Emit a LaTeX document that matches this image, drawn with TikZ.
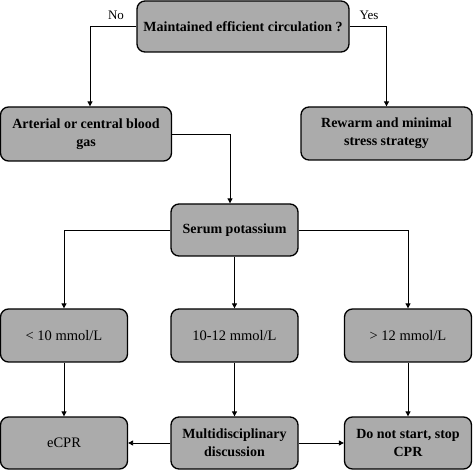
\documentclass[tikz,border=0pt]{standalone}
\usepackage{fontspec}
\setmainfont{Liberation Serif}
\usetikzlibrary{arrows.meta}
\definecolor{boxgray}{HTML}{ABABAB}
\tikzset{
  box/.style={draw=black, line width=1.3pt, fill=boxgray, rounded corners=8pt,
    inner sep=0pt, align=center, font=\bfseries\fontsize{14}{18}\selectfont},
  reg/.style={font=\fontsize{14.5}{18}\selectfont},
  conn/.style={line width=0.9pt, -{Triangle[length=5pt,width=5pt]}},
  lbl/.style={font=\fontsize{13}{15}\selectfont}
}
\begin{document}
\begin{tikzpicture}[x=1pt,y=-1pt]
\useasboundingbox (0,0) rectangle (474,470);
\node[box, minimum width=212pt, minimum height=51pt] (top) at (243,26.5) {Maintained efficient circulation ?};
\node[box, minimum width=171pt, minimum height=54pt] (art) at (86,134) {Arterial or central blood\\gas};
\node[box, minimum width=171pt, minimum height=53pt] (rew) at (386.5,133.5) {Rewarm and minimal\\stress strategy};
\node[box, minimum width=127pt, minimum height=52pt] (ser) at (234.5,230) {Serum potassium};
\node[box, reg, minimum width=127pt, minimum height=53pt] (l3) at (64,335.5) {\textless{} 10 mmol/L};
\node[box, reg, minimum width=127pt, minimum height=53pt] (m3) at (234.5,335.5) {10-12 mmol/L};
\node[box, reg, minimum width=127pt, minimum height=53pt] (r3) at (408,335.5) {\textgreater{} 12 mmol/L};
\node[box, reg, minimum width=127pt, minimum height=52pt] (l4) at (64,443) {eCPR};
\node[box, minimum width=127pt, minimum height=52pt] (m4) at (234.5,443) {Multidisciplinary\\discussion};
\node[box, minimum width=127pt, minimum height=52pt] (r4) at (408,443) {Do not start, stop\\CPR};
\node[lbl] (no) at (116,15) {No};
\node[lbl] (yes) at (369,15) {Yes};
\draw[conn] (top.west) -| ([xshift=4pt]art.north);
\draw[conn] (top.east) -| (rew.north);
\draw[conn] (art.east) -| ([xshift=-4.5pt]ser.north);
\draw[conn] (ser.west) -| (l3.north);
\draw[conn] (ser.east) -| (r3.north);
\draw[conn] (ser.south) -- (m3.north);
\draw[conn] (l3.south) -- (l4.north);
\draw[conn] (m3.south) -- (m4.north);
\draw[conn] (r3.south) -- (r4.north);
\draw[conn] (m4.west) -- (l4.east);
\draw[conn] (m4.east) -- (r4.west);
\end{tikzpicture}
\end{document}
